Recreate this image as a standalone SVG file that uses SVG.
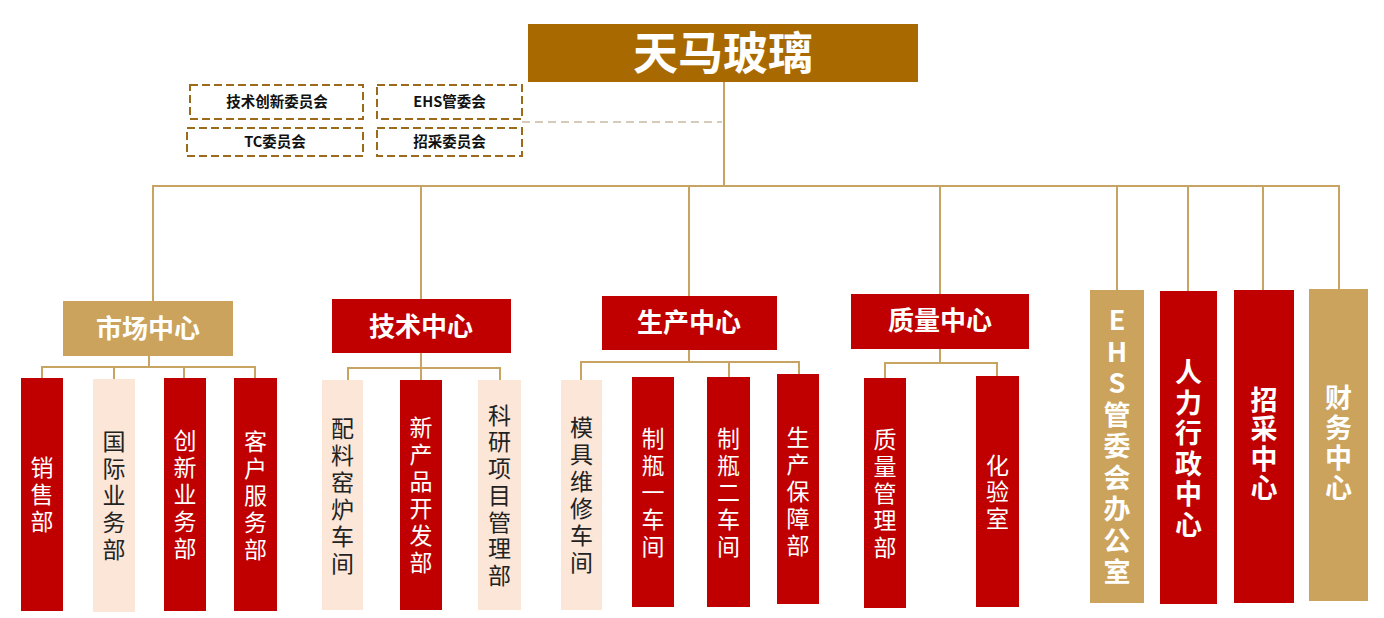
<svg xmlns="http://www.w3.org/2000/svg" width="1384" height="618" viewBox="0 0 1384 618">
<style>
.ln{stroke:#C8A462;stroke-width:2;fill:none}
.dl{stroke:#C9BBA3;stroke-width:1.6;fill:none;stroke-dasharray:8 5}
.cm{fill:#FFFFFF;stroke:#9C6A1B;stroke-width:2;stroke-dasharray:8 4}
.red{fill:#C00000}
.tan{fill:#CBA35C}
.pch{fill:#FBE6D8}
.ttl{fill:#A86A00}
text{font-family:"Noto Sans CJK SC","Noto Sans",sans-serif;text-anchor:middle}
.t1{font-size:45px;font-weight:700;fill:#FFFFFF}
.tc{font-size:14.5px;font-weight:700;fill:#111111}
.th{font-size:26px;font-weight:700;fill:#FFFFFF}
.v{writing-mode:vertical-rl;text-orientation:upright}
.tw{font-size:23px;fill:#FFFFFF;letter-spacing:4px}
.tk{font-size:23px;fill:#222222;letter-spacing:4px}
.tb{font-size:27px;font-weight:700;fill:#FFFFFF}
</style>
<rect width="1384" height="618" fill="#FFFFFF"/>
<g id="connectors">
<line class="dl" x1="522" y1="122" x2="722" y2="122"/>
<line class="ln" x1="724" y1="82" x2="724" y2="186"/>
<line class="ln" x1="152" y1="186" x2="1340" y2="186"/>
<line class="ln" x1="153" y1="186" x2="153" y2="301"/>
<line class="ln" x1="421" y1="186" x2="421" y2="299"/>
<line class="ln" x1="689" y1="186" x2="689" y2="296"/>
<line class="ln" x1="940" y1="186" x2="940" y2="294"/>
<line class="ln" x1="1117" y1="186" x2="1117" y2="290"/>
<line class="ln" x1="1188" y1="186" x2="1188" y2="291"/>
<line class="ln" x1="1263" y1="186" x2="1263" y2="290"/>
<line class="ln" x1="1339" y1="186" x2="1339" y2="289"/>
<line class="ln" x1="149" y1="356" x2="149" y2="367"/>
<line class="ln" x1="41" y1="367" x2="256" y2="367"/>
<line class="ln" x1="42" y1="367" x2="42" y2="378"/>
<line class="ln" x1="114" y1="367" x2="114" y2="379"/>
<line class="ln" x1="184" y1="367" x2="184" y2="378"/>
<line class="ln" x1="255" y1="367" x2="255" y2="378"/>
<line class="ln" x1="421" y1="353" x2="421" y2="380"/>
<line class="ln" x1="347" y1="368" x2="501" y2="368"/>
<line class="ln" x1="348" y1="368" x2="348" y2="380"/>
<line class="ln" x1="500" y1="368" x2="500" y2="380"/>
<line class="ln" x1="689" y1="350" x2="689" y2="362"/>
<line class="ln" x1="580" y1="362" x2="800" y2="362"/>
<line class="ln" x1="581" y1="362" x2="581" y2="380"/>
<line class="ln" x1="729" y1="362" x2="729" y2="377"/>
<line class="ln" x1="799" y1="362" x2="799" y2="374"/>
<line class="ln" x1="940" y1="349" x2="940" y2="363"/>
<line class="ln" x1="884" y1="363" x2="998" y2="363"/>
<line class="ln" x1="885" y1="363" x2="885" y2="378"/>
<line class="ln" x1="997" y1="363" x2="997" y2="376"/>
</g>
<g id="root">
<rect class="ttl" x="528" y="24" width="390" height="58"/>
<text class="t1" x="723" y="70">天马玻璃</text>
</g>
<g id="committee-1">
<rect class="cm" x="190" y="85" width="173" height="34"/>
<text class="tc" x="277" y="107">技术创新委员会</text>
</g>
<g id="committee-2">
<rect class="cm" x="377" y="85" width="145" height="34"/>
<text class="tc" x="449.5" y="107">EHS管委会</text>
</g>
<g id="committee-3">
<rect class="cm" x="187" y="128" width="176" height="28"/>
<text class="tc" x="275" y="147">TC委员会</text>
</g>
<g id="committee-4">
<rect class="cm" x="377" y="128" width="145" height="28"/>
<text class="tc" x="449.5" y="147">招采委员会</text>
</g>
<g id="market">
<rect class="tan" x="63" y="301" width="170" height="55"/>
<text class="th" x="148" y="338">市场中心</text>
</g>
<g id="tech">
<rect class="red" x="332" y="299" width="179" height="54"/>
<text class="th" x="421" y="335.5">技术中心</text>
</g>
<g id="production">
<rect class="red" x="602" y="296" width="175" height="54"/>
<text class="th" x="689" y="332">生产中心</text>
</g>
<g id="quality">
<rect class="red" x="851" y="294" width="178" height="55"/>
<text class="th" x="940" y="330">质量中心</text>
</g>
<g id="sales">
<rect class="red" x="21" y="378" width="42" height="233"/>
<text class="v tw" x="42" y="496">销售部</text>
</g>
<g id="intl">
<rect class="pch" x="93" y="379" width="42" height="233"/>
<text class="v tk" x="114" y="497">国际业务部</text>
</g>
<g id="innov">
<rect class="red" x="164" y="378" width="42" height="233"/>
<text class="v tw" x="185" y="496">创新业务部</text>
</g>
<g id="service">
<rect class="red" x="234" y="378" width="43" height="233"/>
<text class="v tw" x="255.5" y="497.5">客户服务部</text>
</g>
<g id="furnace">
<rect class="pch" x="322" y="380" width="41" height="230"/>
<text class="v tk" x="342.5" y="497.5">配料窑炉车间</text>
</g>
<g id="newprod">
<rect class="red" x="400" y="380" width="42" height="230"/>
<text class="v tw" x="421" y="497">新产品开发部</text>
</g>
<g id="research">
<rect class="pch" x="478" y="380" width="43" height="230"/>
<text class="v tk" x="499.5" y="497" style="letter-spacing:3.7px">科研项目管理部</text>
</g>
<g id="mould">
<rect class="pch" x="561" y="380" width="41" height="230"/>
<text class="v tk" x="581.5" y="497">模具维修车间</text>
</g>
<g id="bottle1">
<rect class="red" x="632" y="377" width="42" height="230"/>
<text class="v tw" x="653" y="494">制瓶一车间</text>
</g>
<g id="bottle2">
<rect class="red" x="707" y="377" width="43" height="230"/>
<text class="v tw" x="728.5" y="494">制瓶二车间</text>
</g>
<g id="support">
<rect class="red" x="777" y="374" width="42" height="230"/>
<text class="v tw" x="798" y="493">生产保障部</text>
</g>
<g id="qmgmt">
<rect class="red" x="864" y="378" width="42" height="230"/>
<text class="v tw" x="885" y="495.5">质量管理部</text>
</g>
<g id="lab">
<rect class="red" x="976" y="376" width="43" height="231"/>
<text class="v tw" x="997.5" y="493.5" style="letter-spacing:3.5px">化验室</text>
</g>
<g id="ehs">
<rect class="tan" x="1090" y="290" width="54" height="313"/>
<text class="v tb" x="1117" y="448" style="letter-spacing:4.5px">EHS管委会办公室</text>
</g>
<g id="hr">
<rect class="red" x="1160" y="291" width="57" height="313"/>
<text class="v tb" x="1188.5" y="450" style="letter-spacing:3.6px">人力行政中心</text>
</g>
<g id="purchase">
<rect class="red" x="1234" y="290" width="60" height="313"/>
<text class="v tb" x="1264" y="445" style="letter-spacing:2.3px">招采中心</text>
</g>
<g id="finance">
<rect class="tan" x="1309" y="289" width="59" height="312"/>
<text class="v tb" x="1338.5" y="444.5" style="letter-spacing:3px">财务中心</text>
</g>
</svg>
